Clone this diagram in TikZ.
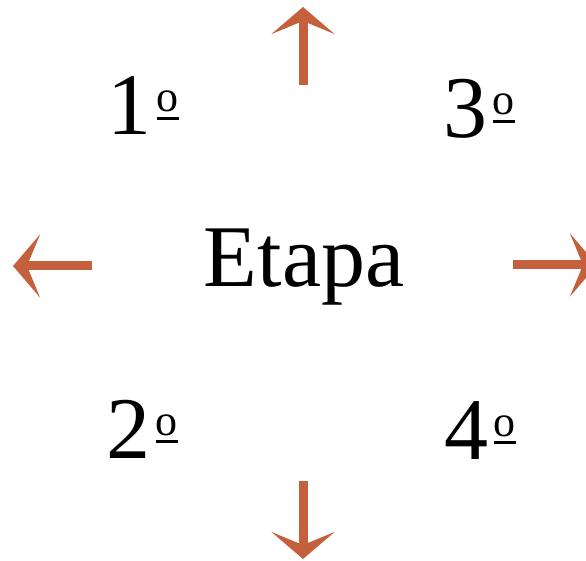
\documentclass[tikz,border=0pt]{standalone}
\usepackage{fontspec}
\setmainfont{Liberation Serif}
\usepackage{xcolor}
\definecolor{rust}{HTML}{C4603C}
\usetikzlibrary{arrows.meta}
% underlined ordinal sign, sitting lower than the font's own
\newcommand{\ordsign}{\kern5pt\raisebox{15pt}{\rlap{\rule{22pt}{2.8pt}}}%
  \raisebox{23pt}{\fontsize{44}{44}\selectfont o}}

\begin{document}
\begin{tikzpicture}[x=1pt,y=-1pt,
    label/.style={inner sep=0pt, font=\fontsize{88}{100}\selectfont},
    push/.style={rust, line width=9pt, -{Stealth[length=27pt, width=63pt, inset=13pt]}}]
  \useasboundingbox (0,0) rectangle (586,561);
  % centre word
  \node[label, anchor=base] (etapa) at (304,287) {Etapa};
  % four stages
  \node[label, anchor=base] (s1) at (143,135) {1\ordsign};
  \node[label, anchor=base] (s3) at (479,138) {3\ordsign};
  \node[label, anchor=base] (s2) at (142,458) {2\ordsign};
  \node[label, anchor=base] (s4) at (480,459) {4\ordsign};
  % arrow ends
  \coordinate (upA) at (303,85);   \coordinate (upB) at (303,7);
  \coordinate (lfA) at (92,266);   \coordinate (lfB) at (13,266);
  \coordinate (rtA) at (513,265);  \coordinate (rtB) at (597,265);
  \coordinate (dnA) at (303,481);  \coordinate (dnB) at (303,559);
  % four arrows
  \foreach \a/\b in {upA/upB,lfA/lfB,rtA/rtB,dnA/dnB}
    \draw[push] (\a) -- (\b);
\end{tikzpicture}
\end{document}
